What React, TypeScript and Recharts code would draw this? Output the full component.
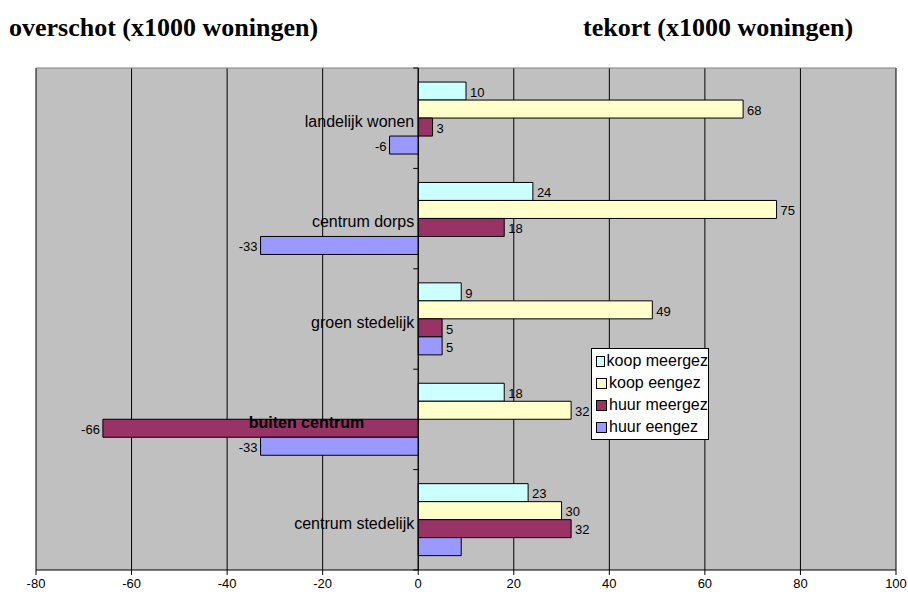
import React from "react";
import {
  BarChart,
  Bar,
  XAxis,
  YAxis,
  CartesianGrid,
  ReferenceLine,
  LabelList,
} from "recharts";

const categories = [
  "landelijk wonen",
  "centrum dorps",
  "groen stedelijk",
  "buiten centrum",
  "centrum stedelijk",
];
const koopMeergez = [10, 24, 9, 18, 23];
const koopEengez = [68, 75, 49, 32, 30];
const huurMeergez = [3, 18, 5, -66, 32];
const huurEengez = [-6, -33, 5, -33, 9];
// the last huur eengez bar carries no label in the original
const huurEengezLabels = ["-6", "-33", "5", "-33", ""];
const xTicks = [-80, -60, -40, -20, 0, 20, 40, 60, 80, 100];

const series = [
  { key: "koopMeergez", name: "koop meergez", color: "#CCFFFF" },
  { key: "koopEengez", name: "koop eengez", color: "#FFFFCC" },
  { key: "huurMeergez", name: "huur meergez", color: "#993366" },
  { key: "huurEengez", name: "huur eengez", color: "#9999FF" },
];

const data = categories.map((name, i) => ({
  name,
  koopMeergez: koopMeergez[i],
  koopEengez: koopEengez[i],
  huurMeergez: huurMeergez[i],
  huurEengez: huurEengez[i],
  koopMeergezLabel: String(koopMeergez[i]),
  koopEengezLabel: String(koopEengez[i]),
  huurMeergezLabel: String(huurMeergez[i]),
  huurEengezLabel: huurEengezLabels[i],
}));

const W = 908;
const H = 599;
const PLOT_LEFT = 36;
const PLOT_RIGHT = 896;
const PLOT_TOP = 68;
const PLOT_BOTTOM = 570;
const X_MIN = -80;
const X_MAX = 100;
const ZERO_X = PLOT_LEFT + ((0 - X_MIN) / (X_MAX - X_MIN)) * (PLOT_RIGHT - PLOT_LEFT);
const BAND = (PLOT_BOTTOM - PLOT_TOP) / categories.length;
const SANS = "'Liberation Sans', Arial, sans-serif";
const SERIF = "'Liberation Serif', 'Times New Roman', serif";

function CategoryTick(props: any) {
  const { y, payload, index } = props;
  const bold = payload.value === "buiten centrum";
  return (
    <g>
      <line x1={ZERO_X - 5} x2={ZERO_X} y1={y - BAND / 2} y2={y - BAND / 2} stroke="#000" />
      {index === categories.length - 1 && (
        <line x1={ZERO_X - 5} x2={ZERO_X} y1={y + BAND / 2} y2={y + BAND / 2} stroke="#000" />
      )}
      <text
        x={bold ? ZERO_X - 54 : ZERO_X - 4}
        y={y + 3}
        dy="0.36em"
        textAnchor="end"
        fontFamily={SANS}
        fontSize={16}
        fontWeight={bold ? "bold" : "normal"}
        fill="#000"
      >
        {payload.value}
      </text>
    </g>
  );
}

function ValueLabel(props: any) {
  const { x, y, width, height, value } = props;
  if (value === "" || value == null) return null;
  const n = Number(value);
  const end = n >= 0 ? Math.max(x, x + width) : Math.min(x, x + width);
  return (
    <text
      x={n >= 0 ? end + 4 : end - 3}
      y={y + height / 2 + 1}
      dy="0.36em"
      textAnchor={n >= 0 ? "start" : "end"}
      fontFamily={SANS}
      fontSize={13}
      fill="#000"
    >
      {value}
    </text>
  );
}

function LegendBox() {
  return (
    <div
      style={{
        position: "absolute",
        left: 591,
        top: 348,
        width: 116,
        height: 89,
        background: "#fff",
        border: "1px solid #000",
        fontFamily: SANS,
        fontSize: 16,
        color: "#000",
        paddingTop: 1,
        boxSizing: "content-box",
      }}
    >
      {series.map((s) => (
        <div
          key={s.key}
          style={{ height: 22, display: "flex", alignItems: "center", whiteSpace: "nowrap" }}
        >
          <span
            style={{
              display: "inline-block",
              width: 9,
              height: 9,
              marginLeft: 4,
              marginRight: 2,
              background: s.color,
              border: "1px solid #000",
            }}
          />
          <span>{s.name}</span>
        </div>
      ))}
    </div>
  );
}

export default function App() {
  return (
    <div style={{ position: "absolute", left: 0, top: 0, width: W, height: H, background: "#fff" }}>
      <svg width={W} height={60} style={{ position: "absolute", left: 0, top: 0 }}>
        <text x={9} y={36} fontFamily={SERIF} fontWeight="bold" fontSize={26} fill="#000">
          overschot (x1000 woningen)
        </text>
        <text x={583} y={36} fontFamily={SERIF} fontWeight="bold" fontSize={26} fill="#000">
          tekort (x1000 woningen)
        </text>
      </svg>
      <div style={{ position: "absolute", left: 0, top: 0 }}>
        <BarChart
          width={W}
          height={H}
          data={data}
          layout="vertical"
          margin={{ top: PLOT_TOP, left: PLOT_LEFT - 1, right: W - PLOT_RIGHT, bottom: 0 }}
          barCategoryGap="14%"
          barGap={0}
        >
          <CartesianGrid horizontal={false} stroke="#000" fill="#C0C0C0" fillOpacity={1} />
          <CartesianGrid vertical={false} horizontalPoints={[PLOT_TOP]} stroke="#808080" />
          <XAxis
            type="number"
            domain={[X_MIN, X_MAX]}
            ticks={xTicks}
            interval={0}
            allowDataOverflow
            height={H - PLOT_BOTTOM}
            tickSize={5}
            tickMargin={4}
            axisLine={{ stroke: "#000" }}
            tickLine={{ stroke: "#000" }}
            tick={{ fill: "#000", fontSize: 13, fontFamily: SANS }}
          />
          <YAxis
            type="category"
            dataKey="name"
            width={1}
            interval={0}
            axisLine={false}
            tickLine={false}
            tick={(p: any) => <CategoryTick {...p} />}
          />
          <ReferenceLine x={0} stroke="#000" />
          {series.map((s) => (
            <Bar
              key={s.key}
              dataKey={s.key}
              name={s.name}
              fill={s.color}
              stroke="#000"
              strokeWidth={1}
              isAnimationActive={false}
            >
              <LabelList dataKey={`${s.key}Label`} content={<ValueLabel />} />
            </Bar>
          ))}
        </BarChart>
      </div>
      <LegendBox />
    </div>
  );
}
